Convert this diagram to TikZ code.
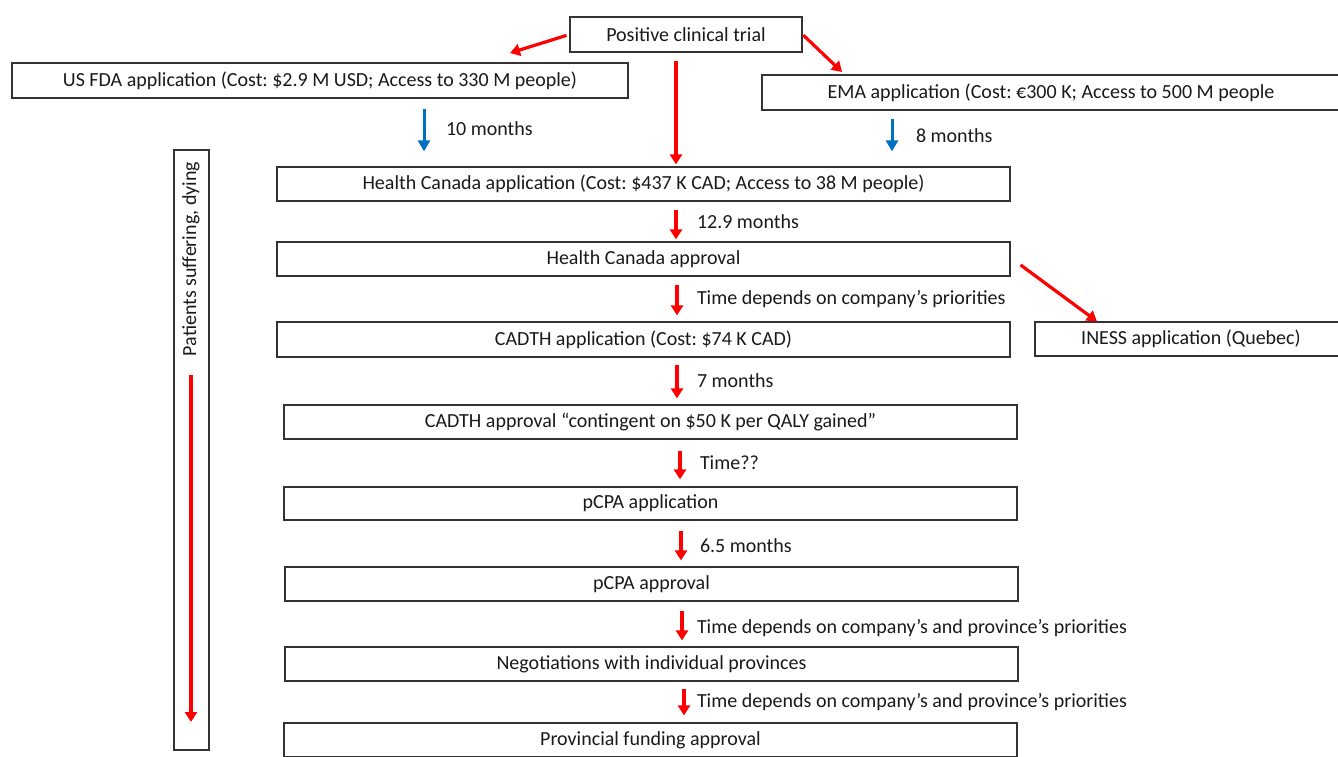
\documentclass[tikz,border=0pt]{standalone}
\usepackage{fontspec}
\setmainfont{Carlito}
\usepackage{xcolor}
\usepackage{tikz}
\usetikzlibrary{positioning,calc,arrows.meta}
\frenchspacing
\definecolor{ink}{HTML}{1A1A1A}
\definecolor{frame}{HTML}{333333}
\definecolor{delay}{HTML}{FF0000}
\definecolor{abroad}{HTML}{0070C0}
\tikzset{
  stage/.style    = {draw=frame, fill=white, line width=1.2pt, minimum height=34pt, inner sep=0pt, font=\fontsize{20}{22}\selectfont\color{ink}},
  wait/.style     = {font=\fontsize{20}{22}\selectfont\color{ink}, inner sep=0pt, outer sep=0pt},
  redflow/.style  = {-{Triangle[length=10pt,width=12pt]}, draw=delay, line width=3.2pt, shorten <=8pt, shorten >=6pt},
  blueflow/.style = {-{Triangle[length=11pt,width=12pt]}, draw=abroad, line width=3pt, shorten <=9pt, shorten >=15pt},
}

\begin{document}
\begin{tikzpicture}[x=1pt,y=1pt]
\path[use as bounding box] (0,0) rectangle (1338,756);

% ---- where it starts ----------------------------------------------------
\node[stage, minimum width=232pt, minimum height=35pt] (ptrial) at (686,721.5) {Positive clinical trial};
\node[stage, minimum width=616pt, minimum height=35pt] (usfda) at (320,675.5) {US FDA application (Cost: \$2.9 M USD; Access to 330 M people)};
\node[stage, minimum width=578pt, minimum height=35pt] (ema) at (1051,663.5) {EMA application (Cost: €300 K; Access to 500 M people};
\coordinate (fdatip) at (510,703);
\coordinate (ematip) at (842,684);
\draw[redflow, shorten <=3pt, shorten >=0pt] (ptrial.west) -- (fdatip);
\draw[redflow, shorten <=1pt, shorten >=0pt] (ptrial.east) -- (ematip);

% ---- Canadian chain -----------------------------------------------------
\node[stage, minimum width=733pt] (hcapp) at (643.5,572) {Health Canada application (Cost: \$437 K CAD; Access to 38 M people)};
\node[stage, minimum width=733pt] (hcaprv) at (643.5,497) {Health Canada approval};
\node[stage, minimum width=733pt, minimum height=35pt] (cadthapp) at (643.5,416.5) {CADTH application (Cost: \$74 K CAD)};
\node[stage, minimum width=312pt] (iness) at (1191,417) {INESS application (Quebec)};
\node[stage, minimum width=733pt] (cadthaprv) at (650.5,334) {CADTH approval ``contingent on \$50 K per QALY gained''};
\node[stage, minimum width=733pt, minimum height=33pt] (pcpaapp) at (650.5,252.5) {pCPA application};
\node[stage, minimum width=733pt] (pcpaaprv) at (651.5,172) {pCPA approval};
\node[stage, minimum width=733pt] (negot) at (651.5,92) {Negotiations with individual provinces};
\node[stage, minimum width=733pt] (provfund) at (650.5,16) {Provincial funding approval};

% abroad first
\draw[blueflow, shorten <=10pt] (usfda.south -| 424,0) -- (hcapp.north -| 424,0) node[wait, midway, right=22pt, yshift=4pt] {10 months};
\draw[blueflow, shorten <=8pt] (ema.south -| 892,0) -- (hcapp.north -| 892,0) node[wait, midway, right=24pt, yshift=3pt] {8 months};
\draw[redflow, shorten >=2pt] (ptrial.south -| 676,0) -- (hcapp.north -| 676,0);

% one step after the other
\draw[redflow, shorten >=2pt] (hcapp.south -| 676,0) -- (hcaprv.north -| 676,0) node[wait, midway, right=21pt] {12.9 months};
\draw[redflow] (hcaprv.south -| 677,0) -- (cadthapp.north -| 677,0) node[wait, midway, right=20pt] {Time depends on company's priorities};
\draw[redflow, shorten >=0pt, shorten <=0pt] ([shift={(10,-6)}]hcaprv.east) -- (iness.north -| 1097,440);
\draw[redflow, shorten <=7pt] (cadthapp.south -| 677,0) -- (cadthaprv.north -| 677,0) node[wait, midway, right=20pt] {7 months};
\draw[redflow, shorten <=11pt, shorten >=7pt] (cadthaprv.south -| 680,0) -- (pcpaapp.north -| 680,0) node[wait, midway, right=20pt] {Time??};
\draw[redflow, shorten <=10pt] (pcpaapp.south -| 681,0) -- (pcpaaprv.north -| 681,0) node[wait, midway, right=19pt, yshift=-2pt] {6.5 months};
\draw[redflow, shorten <=9pt] (pcpaaprv.south -| 682,0) -- (negot.north -| 682,0) node[wait, midway, right=15pt, yshift=-4pt] {Time depends on company's and province's priorities};
\draw[redflow, shorten <=7pt, shorten >=7pt] (negot.south -| 684,0) -- (provfund.north -| 684,0) node[wait, midway, right=13pt] {Time depends on company's and province's priorities};

% ---- the patients' side -------------------------------------------------
\node[stage, minimum width=35pt, minimum height=600pt] (sidebar) at (191.5,306) {};
\node[wait, rotate=90] (sidetext) at (191,497) {Patients suffering, dying};
\coordinate (sidetip) at (190,34);
\draw[redflow, shorten <=19pt, shorten >=0pt] (sidetext.west) -- (sidetext.west |- sidetip);

\end{tikzpicture}
\end{document}
